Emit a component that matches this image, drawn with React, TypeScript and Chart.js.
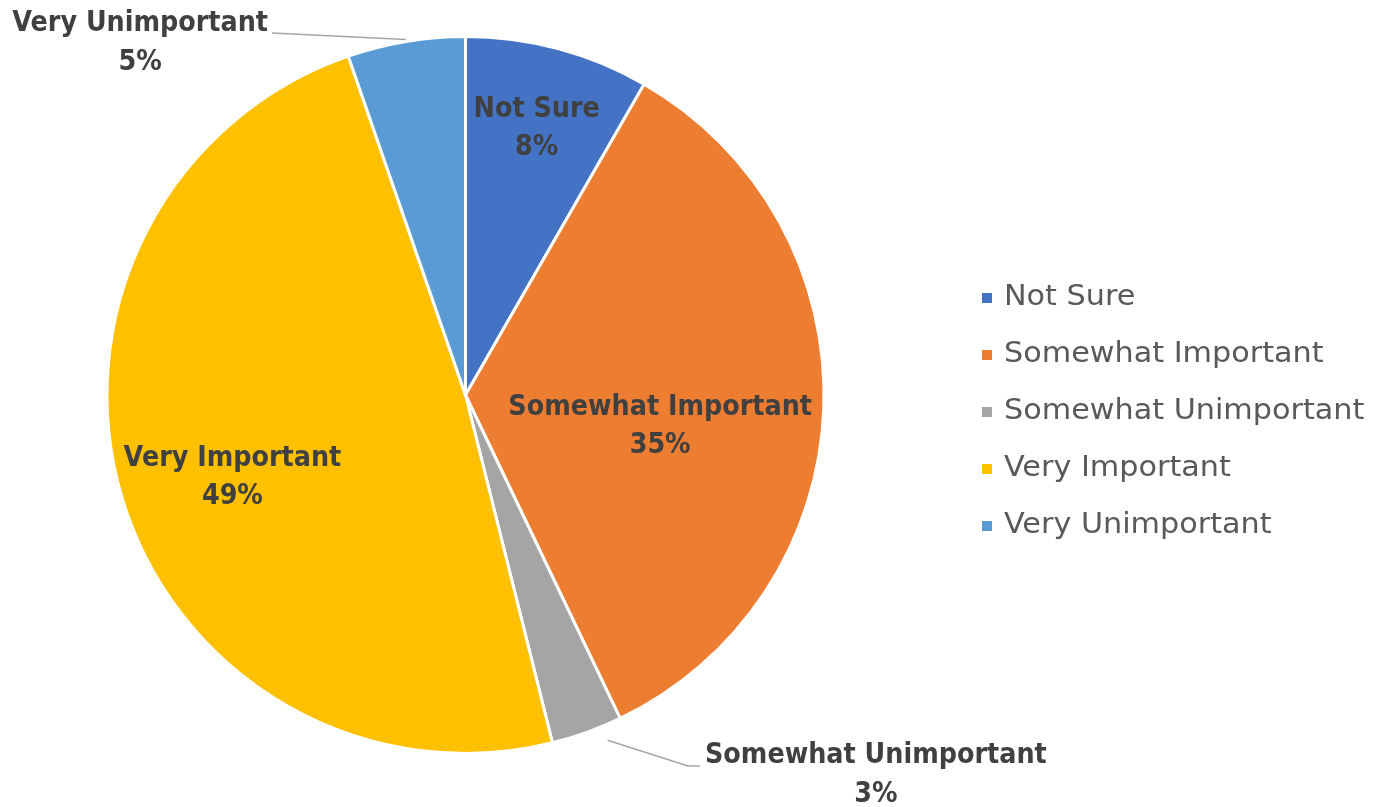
import React, { useEffect, useRef } from "react";
import { Chart, registerables } from "chart.js";

Chart.register(...registerables);

const categories = ["Not Sure", "Somewhat Important", "Somewhat Unimportant", "Very Important", "Very Unimportant"];
const values = [8.3, 34.6, 3.2, 48.6, 5.3];
const percentLabels = ["8%", "35%", "3%", "49%", "5%"];
const colors = ["#4472C4", "#ED7D31", "#A5A5A5", "#FFC000", "#5B9BD5"];

const FONT = "'DejaVu Sans', Verdana, sans-serif";
const BOLD_SX = 0.91;
const LEG_SX = 1.08;

function drawText(ctx: CanvasRenderingContext2D, text: string, x: number, y: number, sx: number, align: "left" | "center" | "right") {
  const w = ctx.measureText(text).width * sx;
  let left = x;
  if (align === "center") left = x - w / 2;
  else if (align === "right") left = x - w;
  ctx.save();
  ctx.translate(left, y);
  ctx.scale(sx, 1);
  ctx.textAlign = "left";
  ctx.fillText(text, 0, 0);
  ctx.restore();
  return w;
}

const labelPlugin = {
  id: "labelPlugin",
  afterDraw(chart: any) {
    const ctx = chart.ctx as CanvasRenderingContext2D;
    const meta = chart.getDatasetMeta(0);
    ctx.save();
    const inside: Record<number, [number, number]> = { 0: [0.77, 0], 1: [0.55, 7], 3: [0.69, -3] };
    meta.data.forEach((arc: any, i: number) => {
      const p = arc.getProps(["x", "y", "startAngle", "endAngle", "outerRadius"], true);
      const mid = (p.startAngle + p.endAngle) / 2;
      ctx.fillStyle = "#404040";
      ctx.textBaseline = "middle";
      ctx.font = `bold 28px ${FONT}`;
      if (inside[i]) {
        const [f, nud] = inside[i];
        const a = mid + (nud * Math.PI) / 180;
        const cx = p.x + Math.cos(a) * p.outerRadius * f;
        const cy = p.y + Math.sin(a) * p.outerRadius * f;
        drawText(ctx, categories[i], cx, cy - 19, BOLD_SX, "center");
        drawText(ctx, percentLabels[i], cx, cy + 19, BOLD_SX, "center");
      } else {
        const ex = p.x + Math.cos(mid) * (p.outerRadius + 2);
        const ey = p.y + Math.sin(mid) * (p.outerRadius + 2);
        ctx.strokeStyle = "#A6A6A6";
        ctx.lineWidth = 1.5;
        ctx.beginPath();
        if (i === 4) {
          ctx.moveTo(ex, ey);
          ctx.lineTo(272, 33);
          ctx.stroke();
          const w = ctx.measureText(categories[i]).width * BOLD_SX;
          drawText(ctx, categories[i], 268, 24, BOLD_SX, "right");
          drawText(ctx, percentLabels[i], 268 - w / 2, 63, BOLD_SX, "center");
        } else {
          ctx.moveTo(ex + 20, ey + 6);
          ctx.lineTo(688, 766);
          ctx.lineTo(700, 766);
          ctx.stroke();
          const w = ctx.measureText(categories[i]).width * BOLD_SX;
          drawText(ctx, categories[i], 705, 756, BOLD_SX, "left");
          drawText(ctx, percentLabels[i], 705 + w / 2, 795, BOLD_SX, "center");
        }
      }
    });
    // legend
    ctx.font = `28px ${FONT}`;
    ctx.textBaseline = "middle";
    categories.forEach((c, i) => {
      const y = 298 + i * 57;
      ctx.fillStyle = colors[i];
      ctx.fillRect(982, y - 5, 10, 10);
      ctx.fillStyle = "#595959";
      drawText(ctx, c, 1004, y, LEG_SX, "left");
    });
    ctx.restore();
  },
};

export default function App() {
  const ref = useRef<HTMLCanvasElement>(null);
  useEffect(() => {
    document.body.style.margin = "0";
    const chart = new Chart(ref.current!, {
      type: "pie",
      data: {
        labels: categories,
        datasets: [
          {
            data: values,
            backgroundColor: colors,
            borderColor: "#FFFFFF",
            borderWidth: 3,
          },
        ],
      },
      options: {
        responsive: false,
        animation: false,
        layout: { padding: { left: 105, right: 547, top: 35, bottom: 52 } },
        plugins: { legend: { display: false }, tooltip: { enabled: false } },
      },
      plugins: [labelPlugin],
    });
    return () => chart.destroy();
  }, []);
  return (
    <div style={{ position: "fixed", left: 0, top: 0, width: 1373, height: 807, background: "#fff" }}>
      <canvas ref={ref} width={1373} height={807} />
    </div>
  );
}
